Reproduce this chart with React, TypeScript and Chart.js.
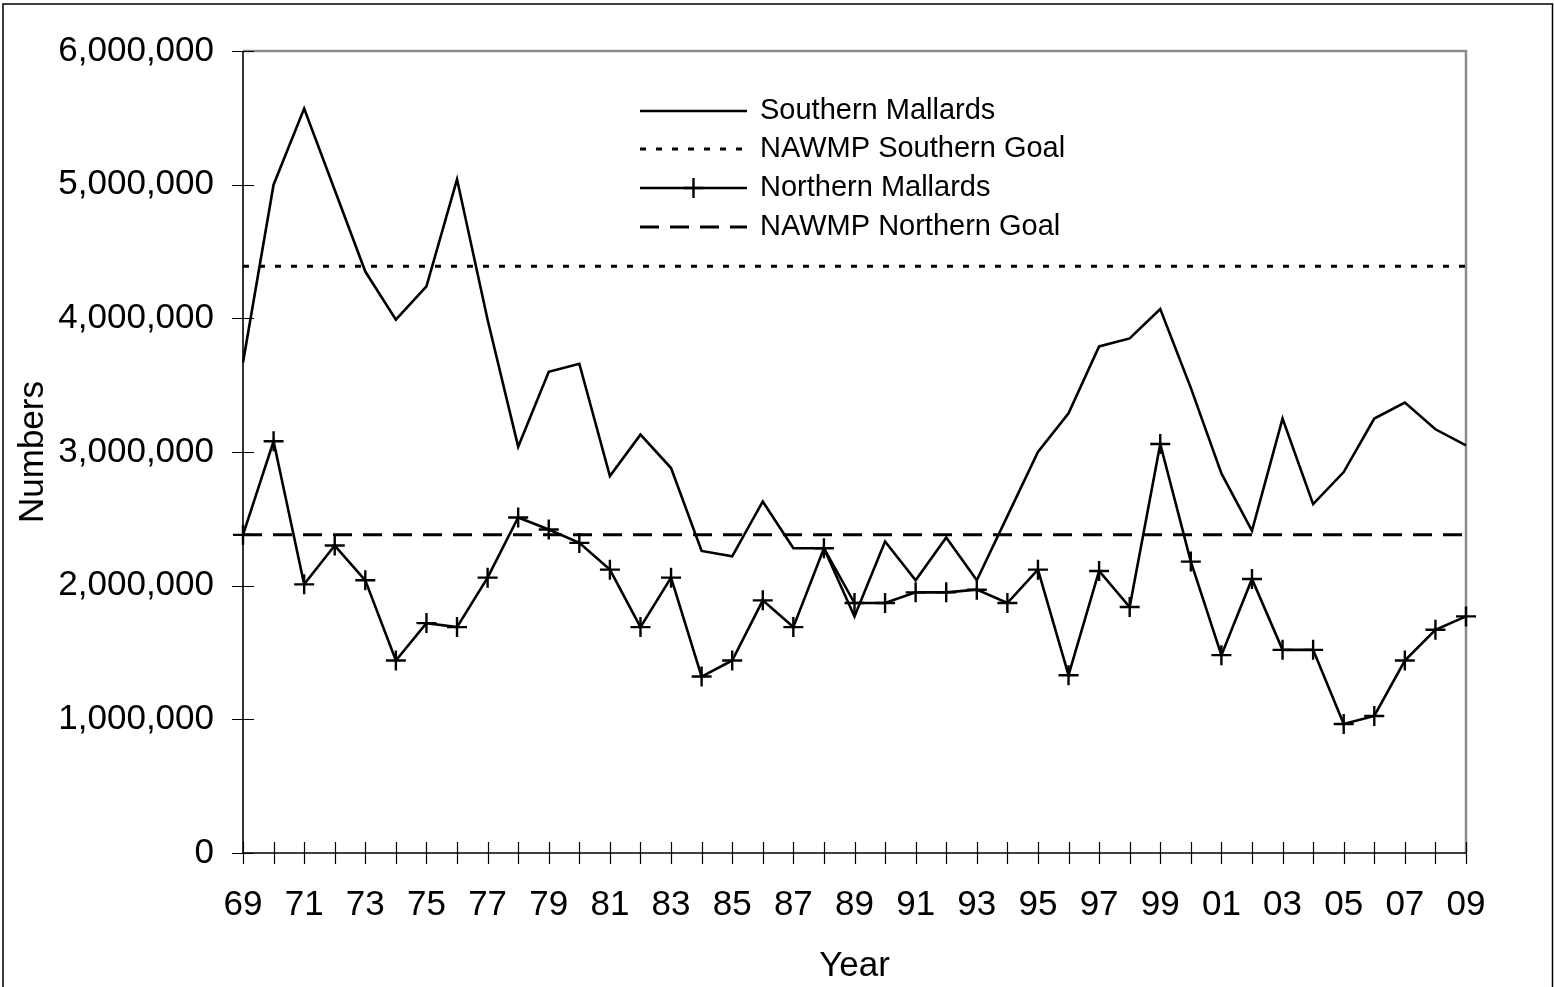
import React, { useEffect, useRef } from 'react';
import { Chart, registerables } from 'chart.js';

Chart.register(...registerables);

const YEARS = [
  '69', '70', '71', '72', '73', '74', '75', '76', '77', '78',
  '79', '80', '81', '82', '83', '84', '85', '86', '87', '88',
  '89', '90', '91', '92', '93', '94', '95', '96', '97', '98',
  '99', '00', '01', '02', '03', '04', '05', '06', '07', '08', '09',
];

const SOUTHERN_MALLARDS = [
  3670000, 5000000, 5570000, 4960000, 4350000, 3990000, 4240000, 5040000, 3990000, 3040000,
  3600000, 3660000, 2820000, 3130000, 2880000, 2260000, 2220000, 2630000, 2280000, 2280000,
  1770000, 2330000, 2040000, 2360000, 2040000, 2520000, 3000000, 3290000, 3790000, 3850000,
  4070000, 3480000, 2840000, 2410000, 3250000, 2610000, 2850000, 3250000, 3370000, 3170000, 3050000,
];

const NORTHERN_MALLARDS = [
  2380000, 3080000, 2010000, 2300000, 2040000, 1440000, 1720000, 1690000, 2060000, 2510000,
  2420000, 2320000, 2120000, 1690000, 2060000, 1320000, 1440000, 1890000, 1690000, 2280000,
  1870000, 1870000, 1950000, 1950000, 1970000, 1870000, 2120000, 1330000, 2110000, 1840000,
  3060000, 2180000, 1480000, 2050000, 1520000, 1520000, 965000, 1025000, 1440000, 1670000, 1770000,
];

const SOUTHERN_GOAL = 4390000;
const NORTHERN_GOAL = 2380000;

const SERIES_LABELS = [
  'Southern Mallards',
  'NAWMP Southern Goal',
  'Northern Mallards',
  'NAWMP Northern Goal',
];

const Y_MIN = 0;
const Y_MAX = 6000000;
const Y_STEP = 1000000;

const FONT = "'Liberation Sans', Arial, sans-serif";

const framePlugin = {
  id: 'frame',
  beforeDatasetsDraw(chart: any) {
    const { ctx, chartArea: a, scales } = chart;
    const xs = scales.x;
    const ys = scales.y;
    ctx.save();
    // outer chart border
    ctx.strokeStyle = '#000';
    ctx.lineWidth = 1.5;
    ctx.strokeRect(3, 4, 1549.5, 1000);
    // plot area border (grey, top & right)
    ctx.strokeStyle = '#8c8c8c';
    ctx.lineWidth = 2.5;
    ctx.beginPath();
    ctx.moveTo(a.left, a.top);
    ctx.lineTo(a.right, a.top);
    ctx.lineTo(a.right, a.bottom);
    ctx.stroke();
    // axes
    ctx.strokeStyle = '#000';
    ctx.lineWidth = 1.6;
    ctx.beginPath();
    ctx.moveTo(a.left, a.top);
    ctx.lineTo(a.left, a.bottom);
    ctx.lineTo(a.right, a.bottom);
    ctx.stroke();
    // tick marks crossing the axes
    ctx.lineWidth = 1.2;
    ctx.beginPath();
    ys.ticks.forEach((t: any) => {
      const y = Math.round(ys.getPixelForValue(t.value)) + 0.5;
      ctx.moveTo(a.left - 11, y);
      ctx.lineTo(a.left + 11, y);
    });
    YEARS.forEach((_, i) => {
      const x = Math.round(xs.getPixelForValue(i)) + 0.5;
      ctx.moveTo(x, a.bottom - 11);
      ctx.lineTo(x, a.bottom + 11);
    });
    ctx.stroke();
    ctx.restore();
  },
};

const LEGEND_ROWS_Y = [111, 149, 188, 227];
const LEGEND_LINE_X0 = 640;
const LEGEND_LINE_X1 = 747;
const LEGEND_TEXT_X = 760;

const legendPlugin = {
  id: 'customLegend',
  afterDraw(chart: any) {
    const { ctx } = chart;
    ctx.save();
    chart.data.datasets.forEach((ds: any, i: number) => {
      const y = LEGEND_ROWS_Y[i];
      ctx.strokeStyle = ds.borderColor;
      ctx.lineWidth = ds.borderWidth;
      ctx.setLineDash(ds.borderDash || []);
      ctx.lineCap = 'butt';
      ctx.beginPath();
      ctx.moveTo(LEGEND_LINE_X0, y);
      ctx.lineTo(LEGEND_LINE_X1, y);
      ctx.stroke();
      ctx.setLineDash([]);
      if (ds.pointStyle === 'cross') {
        const cx = (LEGEND_LINE_X0 + LEGEND_LINE_X1) / 2;
        const r = ds.pointRadius;
        ctx.lineWidth = ds.pointBorderWidth;
        ctx.beginPath();
        ctx.moveTo(cx - r, y);
        ctx.lineTo(cx + r, y);
        ctx.moveTo(cx, y - r);
        ctx.lineTo(cx, y + r);
        ctx.stroke();
      }
      ctx.fillStyle = '#000';
      ctx.font = `29px ${FONT}`;
      ctx.textAlign = 'left';
      ctx.textBaseline = 'middle';
      ctx.fillText(ds.label, LEGEND_TEXT_X, y);
    });
    ctx.restore();
  },
};

export default function App() {
  const canvasRef = useRef<HTMLCanvasElement | null>(null);

  useEffect(() => {
    document.body.style.margin = '0';
    document.body.style.overflow = 'hidden';
    const canvas = canvasRef.current;
    if (!canvas) return;

    const chart = new Chart(canvas, {
      type: 'line',
      data: {
        labels: YEARS,
        datasets: [
          {
            label: SERIES_LABELS[0],
            data: SOUTHERN_MALLARDS,
            borderColor: '#000',
            borderWidth: 2.6,
            pointRadius: 0,
            pointHoverRadius: 0,
            tension: 0,
            fill: false,
          },
          {
            label: SERIES_LABELS[1],
            data: YEARS.map(() => SOUTHERN_GOAL),
            borderColor: '#000',
            borderWidth: 3,
            borderDash: [6, 10],
            pointRadius: 0,
            pointHoverRadius: 0,
            tension: 0,
            fill: false,
          },
          {
            label: SERIES_LABELS[2],
            data: NORTHERN_MALLARDS,
            borderColor: '#000',
            borderWidth: 2.6,
            pointStyle: 'cross',
            pointRadius: 10,
            pointHoverRadius: 10,
            pointBorderColor: '#000',
            pointBorderWidth: 2.4,
            tension: 0,
            fill: false,
          },
          {
            label: SERIES_LABELS[3],
            data: YEARS.map(() => NORTHERN_GOAL),
            borderColor: '#000',
            borderWidth: 3,
            borderDash: [19, 11],
            pointRadius: 0,
            pointHoverRadius: 0,
            tension: 0,
            fill: false,
          },
        ],
      },
      options: {
        animation: false,
        responsive: false,
        events: [],
        layout: { padding: { left: 0, top: 51, right: 88, bottom: 0 } },
        plugins: {
          legend: { display: false },
          tooltip: { enabled: false },
        },
        scales: {
          x: {
            type: 'category',
            offset: false,
            grid: { display: false, drawTicks: false },
            border: { display: false },
            afterFit: (scale: any) => {
              scale.height = 134;
            },
            ticks: {
              autoSkip: false,
              maxRotation: 0,
              minRotation: 0,
              padding: 31,
              color: '#000',
              font: { family: FONT, size: 35 },
              callback: (_v: any, i: number) => (i % 2 === 0 ? YEARS[i] : ''),
            },
            title: {
              display: true,
              text: 'Year',
              color: '#000',
              font: { family: FONT, size: 35 },
              padding: { top: 0, bottom: 0 },
            },
          },
          y: {
            min: Y_MIN,
            max: Y_MAX,
            grid: { display: false, drawTicks: false },
            border: { display: false },
            afterFit: (scale: any) => {
              scale.width = 243;
            },
            ticks: {
              stepSize: Y_STEP,
              padding: 29,
              color: '#000',
              font: { family: FONT, size: 35 },
              callback: (v: any) => Number(v).toLocaleString('en-US'),
            },
            title: {
              display: true,
              text: 'Numbers',
              color: '#000',
              font: { family: FONT, size: 35 },
              padding: { top: 12, bottom: 0 },
            },
          },
        },
      },
      plugins: [framePlugin, legendPlugin],
    });

    return () => {
      chart.destroy();
    };
  }, []);

  return (
    <div style={{ width: 1554, height: 987, background: '#fff' }}>
      <canvas ref={canvasRef} width={1554} height={987} style={{ display: 'block' }} />
    </div>
  );
}
